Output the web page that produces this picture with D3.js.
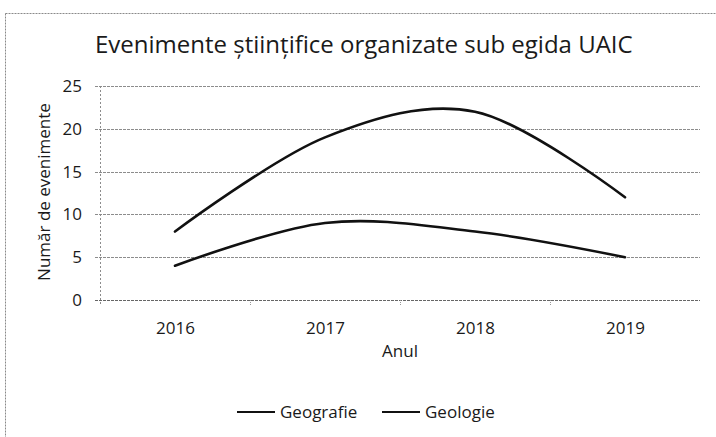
<!DOCTYPE html>
<html>
<head>
<meta charset="utf-8">
<script src="https://cdnjs.cloudflare.com/ajax/libs/d3/7.8.5/d3.min.js"></script>
<style>
    body { margin: 0; background: #fff; }
    text { font-family: "Open Sans", "Noto Sans", sans-serif; fill: #1a1a1a; }
</style>
</head>
<body>
<svg></svg>
<script>
let years = ['2016', '2017', '2018', '2019']
let geografie = [8, 19, 22, 12]
let geologie = [4, 9, 8, 5]
let yTicks = [0, 5, 10, 15, 20, 25]
let seriesNames = ['Geografie', 'Geologie']

let width = 716
let height = 437
let plotLeft = 100
let plotRight = 700
let plotTop = 86
let plotBottom = 300

let xScale
let yScale

let svg = d3.select('svg')

let drawBoard = () => {
    svg.attr('width', width)
        .attr('height', height)

    svg.append('rect')
        .attr('x', 5.5)
        .attr('y', 13.5)
        .attr('width', 730)
        .attr('height', 450)
        .attr('fill', 'none')
        .attr('stroke', '#8a8a8a')
        .attr('stroke-dasharray', '2,1')

    let title = svg.append('text')
        .attr('x', 95)
        .attr('y', 53)
        .style('font-size', '22px')
        .text('Evenimente științifice organizate sub egida UAIC')

    // fit the title to the width it has in the picture
    let w = title.node().getComputedTextLength()
    title.style('font-size', (22 * 538 / w) + 'px')
}

let makeScales = () => {
    xScale = d3.scalePoint()
        .domain(years)
        .range([plotLeft, plotRight])
        .padding(0.5)

    yScale = d3.scaleLinear()
        .domain([0, 25])
        .range([plotBottom, plotTop])
}

let makeAxes = () => {
    // gridlines
    svg.append('g')
        .selectAll('line')
        .data(yTicks)
        .enter()
        .append('line')
        .attr('x1', plotLeft - 5)
        .attr('x2', plotRight)
        .attr('y1', (d) => Math.round(yScale(d)) + 0.5)
        .attr('y2', (d) => Math.round(yScale(d)) + 0.5)
        .attr('stroke', (d) => d == 0 ? '#666' : '#8c8c8c')
        .attr('stroke-dasharray', '3,1')

    svg.append('line')
        .attr('x1', plotLeft + 0.5)
        .attr('x2', plotLeft + 0.5)
        .attr('y1', plotTop)
        .attr('y2', plotBottom + 5)
        .attr('stroke', '#8c8c8c')
        .attr('stroke-dasharray', '2,2')

    // small ticks between the years
    let step = xScale.step()
    svg.append('g')
        .selectAll('line')
        .data(years.slice(1))
        .enter()
        .append('line')
        .attr('x1', (d) => Math.round(xScale(d) - step / 2) + 0.5)
        .attr('x2', (d) => Math.round(xScale(d) - step / 2) + 0.5)
        .attr('y1', plotBottom)
        .attr('y2', plotBottom + 5)
        .attr('stroke', '#999')
        .attr('stroke-dasharray', '1,1')

    let yAxis = d3.axisLeft(yScale)
        .tickValues(yTicks)
        .tickSize(0)
        .tickPadding(18)
    svg.append('g')
        .attr('transform', 'translate(' + plotLeft + ',0)')
        .call(yAxis)
        .call(g => g.select('.domain').remove())
        .selectAll('text')
        .style('font-size', '17px')
        .attr('fill', '#1a1a1a')

    let xAxis = d3.axisBottom(xScale)
        .tickSize(0)
        .tickPadding(22)
    svg.append('g')
        .attr('transform', 'translate(0,' + plotBottom + ')')
        .call(xAxis)
        .call(g => g.select('.domain').remove())
        .selectAll('text')
        .style('font-size', '17px')
        .attr('fill', '#1a1a1a')

    svg.append('text')
        .attr('x', 400)
        .attr('y', 357)
        .attr('text-anchor', 'middle')
        .style('font-size', '17px')
        .text('Anul')

    svg.append('text')
        .attr('transform', 'translate(50,192) rotate(-90)')
        .attr('text-anchor', 'middle')
        .style('font-size', '17px')
        .text('Număr de evenimente')
}

let drawLines = () => {
    let line = d3.line()
        .x((d, i) => xScale(years[i]))
        .y((d) => yScale(d))
        .curve(d3.curveCatmullRom.alpha(0))

    svg.selectAll('path.serie')
        .data([geografie, geologie])
        .enter()
        .append('path')
        .attr('class', 'serie')
        .attr('d', (d) => line(d))
        .attr('fill', 'none')
        .attr('stroke', '#111')
        .attr('stroke-width', 2.6)
        .attr('stroke-linecap', 'round')
}

let drawLegend = () => {
    let legendX = [237, 382]
    let g = svg.append('g')
        .selectAll('g')
        .data(seriesNames)
        .enter()
        .append('g')
        .attr('transform', (d, i) => 'translate(' + legendX[i] + ',412)')

    g.append('line')
        .attr('x1', 0)
        .attr('x2', 38)
        .attr('stroke', '#111')
        .attr('stroke-width', 2)

    g.append('text')
        .attr('x', 43)
        .attr('y', 6)
        .style('font-size', '17px')
        .text((d) => d)
}

drawBoard()
makeScales()
makeAxes()
drawLines()
drawLegend()
</script>
</body>
</html>
